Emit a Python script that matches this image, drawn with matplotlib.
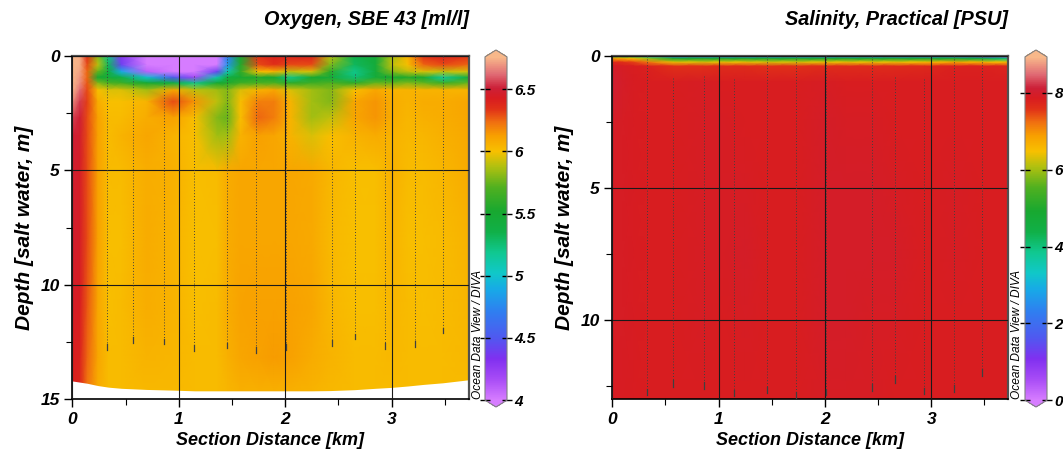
import numpy as np
import matplotlib
matplotlib.use('Agg')
import matplotlib.pyplot as plt
from matplotlib.colors import LinearSegmentedColormap, Normalize
from matplotlib.ticker import MultipleLocator

plt.rcParams['font.family'] = ['Liberation Sans', 'DejaVu Sans']

# ---------------- data ----------------
# Oxygen section: grid columns (km) and depth rows (m); each profile is one column
oxy_km = [0.0, 0.07, 0.14, 0.24, 0.34, 0.46, 0.70, 0.95, 1.15, 1.36, 1.46, 1.58,
          1.75, 1.90, 2.05, 2.25, 2.42, 2.65, 2.85, 3.00, 3.15, 3.30, 3.48, 3.72]
oxy_depths = [0, 0.4, 0.7, 0.95, 1.2, 1.5, 2.0, 2.7, 3.5, 5, 8, 11, 13.2, 14.7]
oxy_profiles = [
    [6.78, 6.78, 6.78, 6.78, 6.78, 6.76, 6.68, 6.56, 6.5, 6.48, 6.47, 6.45, 6.42, 6.4],
    [6.74, 6.74, 6.72, 6.7, 6.68, 6.62, 6.55, 6.5, 6.47, 6.45, 6.45, 6.43, 6.4, 6.38],
    [6.35, 6.3, 6.25, 6.25, 6.28, 6.3, 6.32, 6.3, 6.3, 6.3, 6.3, 6.28, 6.25, 6.22],
    [5.8, 5.9, 5.75, 5.5, 5.8, 6.0, 6.08, 6.12, 6.12, 6.12, 6.12, 6.1, 6.1, 6.08],
    [5.2, 5.3, 5.4, 5.45, 5.7, 5.95, 6.0, 6.02, 6.02, 6.02, 6.01, 6.01, 6.02, 6.02],
    [4.3, 4.4, 4.9, 5.35, 5.65, 5.95, 6.0, 6.02, 6.05, 6.02, 6.01, 6.02, 6.02, 6.02],
    [3.9, 3.9, 4.1, 5.0, 5.5, 5.85, 6.05, 6.08, 6.1, 6.07, 6.08, 6.07, 6.05, 6.03],
    [3.9, 3.9, 3.95, 4.5, 5.4, 6.1, 6.3, 6.12, 6.05, 6.06, 6.05, 6.05, 6.04, 6.03],
    [3.9, 3.9, 3.9, 4.2, 5.2, 5.9, 6.15, 6.0, 6.0, 6.01, 6.0, 6.01, 6.02, 6.02],
    [3.95, 4.0, 4.4, 5.1, 5.5, 5.85, 5.9, 5.8, 5.85, 6.02, 6.01, 6.02, 6.02, 6.02],
    [4.7, 4.8, 5.1, 5.4, 5.55, 5.8, 5.8, 5.75, 5.85, 6.08, 6.08, 6.08, 6.06, 6.04],
    [5.5, 5.55, 5.6, 5.5, 5.65, 5.95, 6.0, 6.0, 6.05, 6.1, 6.1, 6.11, 6.1, 6.06],
    [6.35, 6.3, 6.0, 5.55, 5.7, 6.05, 6.2, 6.25, 6.12, 6.1, 6.1, 6.12, 6.12, 6.06],
    [6.4, 6.35, 6.05, 5.5, 5.7, 6.1, 6.2, 6.2, 6.1, 6.1, 6.1, 6.12, 6.13, 6.06],
    [6.4, 6.3, 5.9, 5.2, 5.6, 5.95, 6.05, 6.05, 6.05, 6.1, 6.1, 6.12, 6.12, 6.06],
    [6.4, 6.3, 5.95, 5.5, 5.65, 5.85, 5.85, 5.85, 5.95, 6.09, 6.09, 6.1, 6.08, 6.05],
    [5.9, 5.8, 5.6, 5.45, 5.7, 5.8, 5.8, 5.9, 6.0, 6.04, 6.03, 6.04, 6.05, 6.03],
    [5.35, 5.3, 5.2, 5.25, 5.6, 6.0, 6.1, 6.1, 6.05, 6.01, 6.0, 6.01, 6.02, 6.02],
    [5.45, 5.45, 5.45, 5.45, 5.75, 6.1, 6.15, 6.15, 6.08, 6.01, 6.0, 6.01, 6.02, 6.02],
    [5.85, 5.9, 5.8, 5.5, 5.75, 6.05, 6.08, 6.08, 6.05, 6.06, 6.05, 6.04, 6.03, 6.02],
    [6.05, 6.0, 5.9, 5.55, 5.8, 6.05, 6.05, 6.04, 6.03, 6.02, 6.01, 6.02, 6.02, 6.02],
    [6.35, 6.25, 5.95, 5.5, 5.75, 6.05, 6.08, 6.06, 6.04, 6.02, 6.01, 6.01, 6.02, 6.02],
    [6.4, 6.3, 5.9, 5.15, 5.65, 6.05, 6.08, 6.07, 6.06, 6.04, 6.02, 6.02, 6.02, 6.02],
    [6.35, 6.25, 5.95, 5.45, 5.75, 6.05, 6.1, 6.1, 6.09, 6.08, 6.05, 6.04, 6.03, 6.02],
]
oxy_bottom = [14.2, 14.25, 14.3, 14.4, 14.47, 14.52, 14.57, 14.6, 14.63, 14.63, 14.63, 14.63,
              14.63, 14.63, 14.63, 14.63, 14.62, 14.58, 14.52, 14.48, 14.42, 14.35, 14.28, 14.15]

# Salinity section
sal_km = [0.0, 0.1, 0.2, 0.33, 0.57, 0.85, 1.05, 1.25, 1.45, 1.73, 2.0, 2.2, 2.44, 2.65, 2.94, 3.22, 3.48, 3.72]
sal_depths = [0, 0.12, 0.25, 0.4, 1.0, 2.5, 5, 7.5, 10, 13]
salinity = [
    [5.5, 5.0, 4.5, 3.5, 2.5, 2.5, 2.5, 2.5, 2.5, 2.5, 2.5, 2.5, 2.5, 2.5, 2.5, 2.5, 1.5, 0.8],
    [7.0, 6.8, 6.6, 6.0, 5.0, 5.0, 5.0, 5.0, 5.0, 5.0, 5.0, 5.0, 5.0, 5.0, 5.0, 5.0, 4.5, 4.0],
    [7.7, 7.6, 7.5, 7.2, 6.4, 6.3, 6.4, 6.4, 6.3, 6.3, 6.4, 6.4, 6.4, 6.4, 6.5, 6.8, 6.6, 6.5],
    [7.95, 7.9, 7.85, 7.8, 7.6, 7.6, 7.65, 7.65, 7.6, 7.6, 7.65, 7.65, 7.65, 7.65, 7.7, 7.8, 7.8, 7.75],
    [8.05, 7.95, 7.88, 7.85, 7.85, 7.9, 7.85, 7.85, 7.85, 7.85, 7.9, 7.85, 7.85, 7.85, 7.85, 7.85, 7.85, 7.85],
    [7.95, 7.9, 7.88, 7.85, 7.85, 7.9, 7.9, 7.85, 7.85, 7.85, 7.95, 7.9, 7.9, 7.85, 7.85, 7.85, 7.85, 7.85],
    [7.9, 7.9, 7.88, 7.85, 7.85, 7.9, 7.9, 7.9, 7.85, 7.85, 7.95, 7.95, 7.95, 7.9, 7.85, 7.9, 7.85, 7.85],
    [7.9, 7.9, 7.88, 7.85, 7.85, 7.9, 7.9, 7.95, 7.85, 7.85, 7.95, 7.95, 7.95, 7.95, 7.85, 7.9, 7.85, 7.85],
    [7.9, 7.9, 7.88, 7.85, 7.85, 7.9, 7.85, 7.9, 7.85, 7.85, 7.95, 7.95, 7.9, 7.9, 7.85, 7.85, 7.85, 7.85],
    [7.88, 7.88, 7.87, 7.85, 7.85, 7.85, 7.85, 7.85, 7.85, 7.85, 7.9, 7.9, 7.9, 7.85, 7.85, 7.85, 7.85, 7.85],
]

# CTD casts (station positions, top and end depths of the sampled profiles)
cast_km = [0.325, 0.574, 0.859, 1.146, 1.456, 1.728, 2.006, 2.443, 2.655, 2.936, 3.217, 3.479]
cast_top = [0.0, 0.85, 0.78, 0.9, 0.0, 0.0, 0.0, 0.0, 0.8, 0.9, 0.0, 0.0]
cast_end = [12.85, 12.53, 12.6, 12.88, 12.78, 12.97, 12.85, 12.68, 12.38, 12.81, 12.71, 12.12]

oxy_ticks = [4, 4.5, 5, 5.5, 6, 6.5]
oxy_ticklabels = ['4', '4.5', '5', '5.5', '6', '6.5']
sal_ticks = [0, 2, 4, 6, 8]
sal_ticklabels = ['0', '2', '4', '6', '8']

# ---------------- colormap (ODV-like) ----------------
odv_pos = [0.0, 0.06, 0.12, 0.18, 0.26, 0.32, 0.37, 0.43, 0.49, 0.55, 0.62, 0.68, 0.725, 0.77, 0.81, 0.85, 0.88, 0.91, 0.95, 1.0]
odv_col = ['#d67cff', '#a84cf6', '#8030f0', '#5058f0', '#2e80f0', '#18a8e8', '#10c8c8', '#10c890',
           '#10b048', '#18a830', '#50b020', '#b0c010', '#f8c000', '#f8a000', '#f07010', '#e03018',
           '#d81c20', '#cc2038', '#e06a74', '#f8b88a']
cmap = LinearSegmentedColormap.from_list('odv', list(zip(odv_pos, odv_col)), N=512)
cmap.set_under(odv_col[0])
cmap.set_over(odv_col[-1])

W, H = 1063, 454
fig = plt.figure(figsize=(W / 100, H / 100), dpi=100)


def fx(px):
    return px / W


def fy(py):
    return 1 - py / H


bold = dict(fontweight='bold', fontstyle='italic')


def make_panel(ax_rect, cax_rect, xs, depths, field, vmin, vmax, ymax, ticks, ticklabels,
               title, bottom=None, odv_x=None):
    ax = fig.add_axes(ax_rect)
    X, Y = np.meshgrid(xs, depths)
    norm = Normalize(vmin=vmin, vmax=vmax)
    mesh = ax.pcolormesh(X, Y, np.array(field), shading='gouraud', cmap=cmap, norm=norm,
                         rasterized=True, zorder=1)
    if bottom is not None:
        ax.fill_between(xs, bottom, ymax + 1, color='white', zorder=2, lw=0)
    for xk, t0, t1 in zip(cast_km, cast_top, cast_end):
        ax.plot([xk, xk], [t0, t1], color='#404040', ls=(0, (1, 2)), lw=0.7, zorder=3)
        ax.plot([xk, xk], [t1 - 0.25, t1], color='#404040', lw=0.9, zorder=3)
    ax.set_xlim(0, 3.725)
    ax.set_ylim(ymax, 0)
    ax.xaxis.set_major_locator(MultipleLocator(1))
    ax.xaxis.set_minor_locator(MultipleLocator(0.5))
    ax.yaxis.set_major_locator(MultipleLocator(5))
    ax.yaxis.set_minor_locator(MultipleLocator(2.5))
    ax.tick_params(which='major', direction='out', length=6, width=1, labelsize=12.5, pad=3)
    ax.tick_params(which='minor', direction='out', length=4, width=0.8)
    for lab in ax.get_xticklabels() + ax.get_yticklabels():
        lab.set_fontweight('bold')
        lab.set_fontstyle('italic')
    ax.grid(True, which='major', color='#1a1a1a', lw=0.8, zorder=4)
    ax.set_axisbelow(False)
    for s in ['left', 'bottom']:
        ax.spines[s].set_color('black')
        ax.spines[s].set_linewidth(1.2)
    for s in ['top', 'right']:
        ax.spines[s].set_color('#505050')
        ax.spines[s].set_linewidth(1.6)
    ax.set_xlabel('Section Distance [km]', fontsize=13, labelpad=4, **bold)
    ax.set_ylabel('Depth [salt water, m]', fontsize=15, labelpad=5, **bold)
    ax.set_title(title, fontsize=14.3, loc='right', pad=22, **bold)

    cax = fig.add_axes(cax_rect)
    cb = fig.colorbar(mesh, cax=cax, extend='both', extendfrac=0.02, ticks=ticks)
    cb.set_ticklabels(ticklabels)
    cb.outline.set_edgecolor('#808080')
    cb.outline.set_linewidth(0.8)
    cax.tick_params(left=True, right=True, direction='inout', length=7, width=1,
                    labelsize=11, pad=2)
    for lab in cax.get_yticklabels():
        lab.set_fontweight('bold')
        lab.set_fontstyle('italic')
    fig.text(odv_x, fy(399), 'Ocean Data View / DIVA', rotation=90, ha='center', va='bottom',
             fontsize=8.6, fontstyle='italic')
    return ax


ax_y0, ax_y1 = 55.7, 399.3
make_panel([fx(72.3), fy(ax_y1), fx(468.7 - 72.3), (ax_y1 - ax_y0) / H],
           [fx(485), fy(407), fx(22), (407 - 50) / H],
           oxy_km, oxy_depths, np.array(oxy_profiles).T, 4.0, 6.76, 15, oxy_ticks, oxy_ticklabels,
           'Oxygen, SBE 43 [ml/l]', bottom=oxy_bottom, odv_x=fx(478))
make_panel([fx(612.3), fy(ax_y1), fx(1008.3 - 612.3), (ax_y1 - ax_y0) / H],
           [fx(1025), fy(407), fx(22), (407 - 50) / H],
           sal_km, sal_depths, salinity, 0.0, 8.94, 13.0, sal_ticks, sal_ticklabels,
           'Salinity, Practical [PSU]', bottom=None, odv_x=fx(1017))

fig.savefig('out.png', dpi=100)
